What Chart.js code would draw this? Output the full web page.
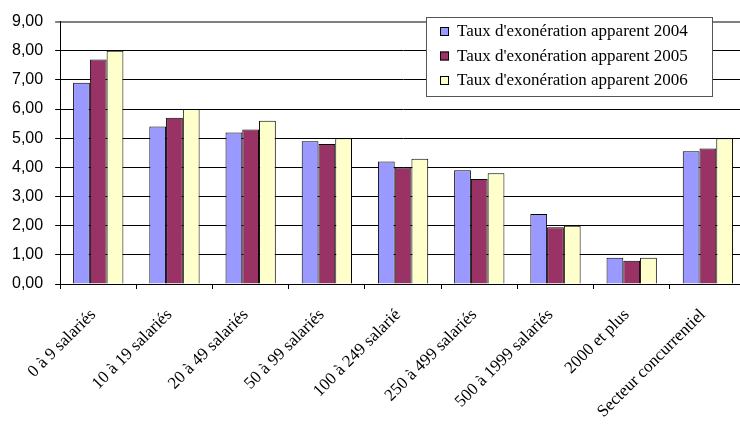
<!DOCTYPE html>
<html>
<head>
<meta charset="utf-8">
<script src="https://cdn.jsdelivr.net/npm/chart.js@4"></script>
<style>
  html, body { margin: 0; padding: 0; background: #fff; overflow: hidden; }
  #wrap { position: relative; width: 748px; height: 424px; }
</style>
</head>
<body>
<div id="wrap"><canvas id="chart"></canvas></div>
<script>
const categories = [
  '0 à 9 salariés',
  '10 à 19 salariés',
  '20 à 49 salariés',
  '50 à 99 salariés',
  '100 à 249 salarié',
  '250 à 499 salariés',
  '500 à 1999 salariés',
  '2000 et plus',
  'Secteur concurrentiel'
];
const seriesNames = [
  "Taux d'exonération apparent 2004",
  "Taux d'exonération apparent 2005",
  "Taux d'exonération apparent 2006"
];
const taux2004 = [6.9, 5.4, 5.2, 4.9, 4.2, 3.9, 2.4, 0.9, 4.55];
const taux2005 = [7.7, 5.7, 5.3, 4.8, 4.0, 3.6, 1.95, 0.8, 4.65];
const taux2006 = [8.0, 6.0, 5.6, 5.0, 4.3, 3.8, 2.0, 0.9, 5.0];
const yTicks = [0, 1, 2, 3, 4, 5, 6, 7, 8, 9];

const colors = ['#9999ff', '#993366', '#ffffcc'];

// legend drawn inside the plot, framed like the original
const boxLegend = {
  id: 'boxLegend',
  afterDraw(chart) {
    const ctx = chart.ctx;
    const x = 426, y = 17, w = 286, h = 79;
    ctx.save();
    ctx.fillStyle = '#fff';
    ctx.fillRect(x, y, w, h);
    ctx.strokeStyle = '#555';
    ctx.lineWidth = 1;
    ctx.strokeRect(x + 0.5, y + 0.5, w, h);
    ctx.font = '17px "Liberation Serif", "Times New Roman", serif';
    ctx.textBaseline = 'middle';
    chart.data.datasets.forEach((ds, i) => {
      const cy = y + 14 + i * 24.5;
      ctx.fillStyle = ds.backgroundColor;
      ctx.fillRect(440, cy - 4, 9, 9);
      ctx.strokeStyle = '#000';
      ctx.strokeRect(440.5, cy - 3.5, 8, 8);
      ctx.fillStyle = '#000';
      ctx.fillText(ds.label, 457, cy + 1);
    });
    ctx.restore();
  }
};

new Chart(document.getElementById('chart'), {
  type: 'bar',
  data: {
    labels: categories,
    datasets: [taux2004, taux2005, taux2006].map((d, i) => ({
      label: seriesNames[i],
      data: d,
      backgroundColor: colors[i],
      borderColor: '#000',
      borderWidth: 1,
      categoryPercentage: 0.66,
      barPercentage: 1.0
    }))
  },
  options: {
    responsive: true,
    maintainAspectRatio: false,
    animation: false,
    layout: { padding: { top: 5, right: 2, bottom: 0, left: 0 } },
    plugins: {
      legend: { display: false },
      tooltip: { enabled: false }
    },
    scales: {
      x: {
        afterFit(scale) { scale.height = 140; },
        grid: {
          drawOnChartArea: false,
          drawTicks: true,
          tickLength: 5,
          color: '#000'
        },
        border: { color: '#000', width: 1 },
        ticks: {
          minRotation: 45,
          maxRotation: 45,
          color: '#000',
          padding: 16,
          labelOffset: -5,
          font: { family: '"Liberation Serif", "Times New Roman", serif', size: 17 }
        }
      },
      y: {
        min: 0,
        max: 9,
        afterBuildTicks(axis) {
          axis.ticks = yTicks.map(v => ({ value: v }));
        },
        grid: {
          tickLength: 5,
          color: c => (c.tick && c.tick.value === 9 ? '#808080' : '#000'),
          lineWidth: c => (c.tick && c.tick.value === 9 ? 2 : 1)
        },
        border: { color: '#000', width: 1 },
        ticks: {
          color: '#000',
          padding: 12,
          font: { family: '"Liberation Sans", Arial, sans-serif', size: 16 },
          callback: v => v.toFixed(2).replace('.', ',')
        }
      }
    }
  },
  plugins: [boxLegend]
});
</script>
</body>
</html>
